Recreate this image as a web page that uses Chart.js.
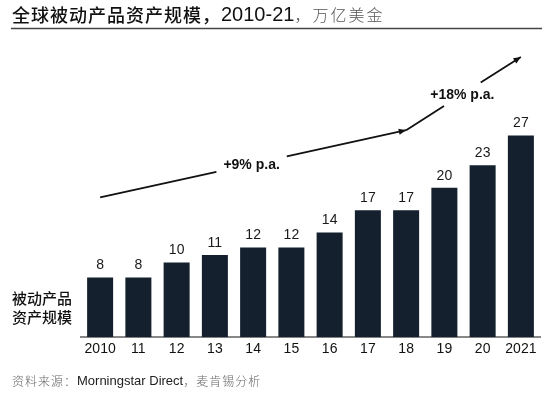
<!DOCTYPE html>
<html>
<head>
<meta charset="utf-8">
<script src="https://cdn.jsdelivr.net/npm/chart.js@4"></script>
<style>
  html, body { margin: 0; padding: 0; background: #fff; }
  #wrap { width: 554px; height: 395px; position: relative; }
</style>
</head>
<body>
<div id="wrap"><canvas id="aumChart" width="554" height="395"></canvas></div>
<script>
// data
const years = ['2010', '11', '12', '13', '14', '15', '16', '17', '18', '19', '20', '2021'];
const aum = [8, 8, 10, 11, 12, 12, 14, 17, 17, 20, 23, 27];
// growth arrows: [startIndex, startValue, endIndex, endValue]
const arrow1 = [0, 18.7, 8, 27.7];
const arrow2 = [8, 27.7, 11, 37.5];

const latin = '"Liberation Sans", Arial, "Noto Sans CJK SC", sans-serif';
const cjk = '"Noto Sans CJK SC", sans-serif';

// [text, font, colour, letter spacing]
const titleParts = [
    ['全球被动产品资产规模，', '500 18px ' + cjk, '#111', 1],
    ['2010-21', '20px ' + latin, '#111', 0],
    ['，万亿美金', '300 16px ' + cjk, '#555', 2]
];
const sourceParts = [
    ['资料来源：', '300 12px ' + cjk, '#666', 1],
    ['Morningstar Direct', '13px ' + latin, '#222', 0],
    ['，麦肯锡分析', '300 12px ' + cjk, '#666', 1]
];

function drawParts(ctx, parts, x, y) {
    parts.forEach(p => {
        ctx.font = p[1];
        ctx.fillStyle = p[2];
        ctx.letterSpacing = p[3] + 'px';
        ctx.fillText(p[0], x, y);
        x += ctx.measureText(p[0]).width;
    });
    ctx.letterSpacing = '0px';
}

function arrowHead(ctx, x1, y1, x2, y2) {
    const a = Math.atan2(y2 - y1, x2 - x1);
    const len = 8;
    ctx.beginPath();
    ctx.moveTo(x2, y2);
    ctx.lineTo(x2 - len * Math.cos(a - 0.4), y2 - len * Math.sin(a - 0.4));
    ctx.lineTo(x2 - len * Math.cos(a + 0.4), y2 - len * Math.sin(a + 0.4));
    ctx.closePath();
    ctx.fill();
}

// draw segment with a gap around a label
function gapLine(ctx, p1, p2, t1, t2) {
    const lx = (t) => p1[0] + (p2[0] - p1[0]) * t;
    const ly = (t) => p1[1] + (p2[1] - p1[1]) * t;
    ctx.beginPath();
    ctx.moveTo(p1[0], p1[1]);
    ctx.lineTo(lx(t1), ly(t1));
    ctx.moveTo(lx(t2), ly(t2));
    ctx.lineTo(p2[0], p2[1]);
    ctx.stroke();
}

const extras = {
    id: 'extras',
    afterDatasetsDraw(chart) {
        const ctx = chart.ctx;
        const xs = chart.scales.x, ys = chart.scales.y;
        ctx.save();

        // value labels
        ctx.fillStyle = '#1a1a1a';
        ctx.font = '14px ' + latin;
        ctx.textAlign = 'center';
        ctx.textBaseline = 'bottom';
        chart.getDatasetMeta(0).data.forEach((bar, i) => {
            ctx.fillText(aum[i], bar.x, bar.y - 5);
        });

        // title
        ctx.textAlign = 'left';
        ctx.textBaseline = 'middle';
        drawParts(ctx, titleParts, 12, 15);
        ctx.strokeStyle = '#444';
        ctx.lineWidth = 1.5;
        ctx.beginPath();
        ctx.moveTo(11, 28.5);
        ctx.lineTo(542, 28.5);
        ctx.stroke();

        // y label
        ctx.font = '500 15px ' + cjk;
        ctx.fillStyle = '#111';
        ctx.fillText('被动产品', 12, 298);
        ctx.fillText('资产规模', 12, 317);

        // source
        drawParts(ctx, sourceParts, 12, 381);

        // arrows
        ctx.strokeStyle = '#111';
        ctx.fillStyle = '#111';
        ctx.lineWidth = 1.8;
        const a1s = [xs.getPixelForValue(arrow1[0]), ys.getPixelForValue(arrow1[1])];
        const a1e = [xs.getPixelForValue(arrow1[2]), ys.getPixelForValue(arrow1[3])];
        gapLine(ctx, a1s, a1e, 0.38, 0.61);
        arrowHead(ctx, a1s[0], a1s[1], a1e[0], a1e[1]);
        const a2s = a1e;
        const a2e = [xs.getPixelForValue(arrow2[2]), ys.getPixelForValue(arrow2[3])];
        gapLine(ctx, a2s, a2e, 0.33, 0.65);
        arrowHead(ctx, a2s[0], a2s[1], a2e[0], a2e[1]);

        ctx.font = 'bold 14px ' + latin;
        ctx.textAlign = 'center';
        ctx.fillStyle = '#111';
        ctx.fillText('+9% p.a.', a1s[0] + (a1e[0] - a1s[0]) * 0.495, a1s[1] + (a1e[1] - a1s[1]) * 0.495 + 1);
        ctx.fillText('+18% p.a.', a2s[0] + (a2e[0] - a2s[0]) * 0.49, a2s[1] + (a2e[1] - a2s[1]) * 0.49 + 1);

        ctx.restore();
    }
};

const ctx = document.getElementById('aumChart').getContext('2d');
new Chart(ctx, {
    type: 'bar',
    data: {
        labels: years,
        datasets: [{
            data: aum,
            backgroundColor: '#14202e',
            categoryPercentage: 1,
            barPercentage: 0.68
        }]
    },
    options: {
        responsive: false,
        animation: false,
        layout: { padding: { left: 81, right: 14, top: 113, bottom: 41 } },
        plugins: { legend: { display: false }, tooltip: { enabled: false } },
        scales: {
            x: {
                grid: { display: false },
                border: { display: true, color: '#888', width: 2 },
                ticks: { color: '#111', font: { size: 14, family: '"Liberation Sans", Arial, sans-serif' }, padding: -4, maxRotation: 0, autoSkip: false }
            },
            y: {
                display: false,
                min: 0,
                max: 30
            }
        }
    },
    plugins: [extras]
});
</script>
</body>
</html>
